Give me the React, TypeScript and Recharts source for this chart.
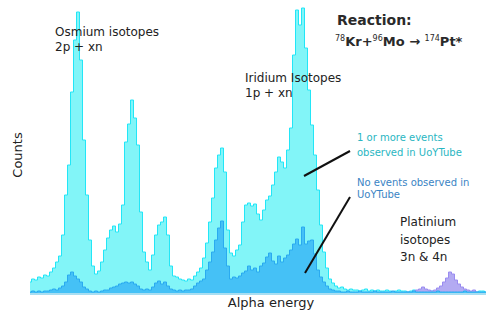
import React from 'react';
import { AreaChart, Area, XAxis, YAxis, ReferenceLine } from 'recharts';

// counts per energy bin (outer envelope: all events)
const allEvents = [
  12, 15, 14, 17, 16, 19, 18, 22, 26, 32, 38, 59, 99, 129, 202, 254, 282, 234, 154, 99,
  54, 28, 20, 23, 32, 44, 56, 64, 68, 62, 70, 89, 152, 170, 194, 176, 149, 82, 42, 32,
  24, 39, 59, 69, 72, 77, 59, 28, 18, 17, 15, 14, 13, 15, 14, 18, 22, 26, 36, 51,
  72, 96, 126, 139, 146, 122, 64, 41, 38, 44, 49, 72, 89, 91, 88, 90, 80, 74, 84, 94,
  98, 109, 122, 137, 132, 126, 144, 166, 239, 284, 269, 286, 246, 204, 169, 139, 104, 69, 42, 26,
  15, 11, 8, 6, 7, 5, 4, 5, 4,
  4, 3, 4, 5, 3, 4, 3, 4, 3, 3, 4, 3, 2, 3, 4, 3, 3, 2, 3, 4, 3, 3, 4, 3, 2, 3, 3, 4,
  3, 3, 4, 3, 2, 3, 3, 2, 3, 3, 2, 3, 2, 3, 3, 2,
];

// events with nothing seen in UoYTube
const noTubeEvents = [
  2, 3, 2, 3, 2, 3, 3, 4, 5, 4, 6, 8, 12, 19, 22, 18, 15, 12, 7, 5,
  3, 2, 3, 2, 3, 4, 4, 6, 7, 8, 10, 11, 12, 11, 12, 10, 8, 5, 4, 5,
  4, 7, 11, 13, 10, 12, 8, 5, 4, 3, 4, 3, 4, 4, 5, 8, 11, 13, 15, 24,
  32, 42, 54, 66, 73, 46, 28, 15, 17, 16, 18, 21, 23, 28, 24, 26, 22, 28, 31, 37,
  41, 33, 30, 38, 32, 36, 39, 44, 50, 55, 49, 67, 50, 53, 54, 40, 24, 17, 12, 8,
  5, 4, 3, 3,
  2, 2, 3, 2, 2, 2, 3, 2, 2, 2, 2, 3, 2, 2, 2, 2, 2, 3, 2, 2, 2, 2, 2, 2, 3,
  2, 2, 2, 2, 2, 2, 2, 3, 2, 2, 2, 2, 2, 2, 2, 2, 3, 2, 2, 2, 2, 2, 2, 2,
];

// platinum channel, only the last bins of the spectrum
const platinumEvents = [
  1, 2, 1, 3, 4, 5, 7, 5, 4, 3, 4, 6, 8, 12, 16, 22, 20, 14, 10, 7,
  5, 4, 3, 4, 2, 1, 1, 0,
];

const platStart = allEvents.length - platinumEvents.length;

const data = allEvents.map((v, i) => ({
  bin: i,
  all: v,
  noTube: noTubeEvents[i] ?? 2,
  plat: i >= platStart ? platinumEvents[i - platStart] : null,
}));

const font = 'DejaVu Sans, Verdana, sans-serif';

export default function App() {
  return (
    <div style={{ position: 'fixed', left: 0, top: 0, width: 486, height: 311, background: '#fff' }}>
      <AreaChart width={486} height={311} data={data} margin={{ top: 0, right: 0, left: 30, bottom: 17 }}>
        <XAxis dataKey="bin" hide />
        <YAxis hide domain={[0, 294]} />
        <Area
          type="step"
          dataKey="all"
          stroke="#22e6f7"
          strokeWidth={1}
          fill="#82f5f8"
          fillOpacity={1}
          isAnimationActive={false}
        />
        <Area
          type="step"
          dataKey="plat"
          stroke="#9a8cf0"
          strokeWidth={1}
          fill="#b3aaf2"
          fillOpacity={1}
          connectNulls={false}
          isAnimationActive={false}
        />
        <Area
          type="step"
          dataKey="noTube"
          stroke="#2aaaf0"
          strokeWidth={1}
          fill="#45c1f6"
          fillOpacity={1}
          isAnimationActive={false}
        />
        <ReferenceLine y={0} stroke="#a8def2" strokeWidth={2} />
      </AreaChart>
      <svg
        width={486}
        height={311}
        style={{ position: 'absolute', left: 0, top: 0, pointerEvents: 'none' }}
        fontFamily={font}
      >
        <text x={55} y={36} fontSize={12} fill="#222">Osmium isotopes</text>
        <text x={55} y={51} fontSize={12} fill="#222">2p + xn</text>
        <text x={245} y={82} fontSize={12} fill="#222">Iridium Isotopes</text>
        <text x={245} y={97} fontSize={12} fill="#222">1p + xn</text>
        <text x={337} y={25} fontSize={14} fontWeight="bold" fill="#2a2a2a">Reaction:</text>
        <text x={335} y={46} fontSize={13} fontWeight="bold" fill="#2a2a2a">
          <tspan fontSize={8} fontWeight="normal" dy={-5}>78</tspan>
          <tspan dy={5}>Kr+</tspan>
          <tspan fontSize={8} fontWeight="normal" dy={-5}>96</tspan>
          <tspan dy={5}>Mo → </tspan>
          <tspan fontSize={8} fontWeight="normal" dy={-5}>174</tspan>
          <tspan dy={5}>Pt*</tspan>
        </text>
        <text x={357} y={141} fontSize={10} fill="#29b6c2">1 or more events</text>
        <text x={357} y={156} fontSize={10} fill="#29b6c2">observed in UoYTube</text>
        <text x={357} y={186} fontSize={10} fill="#3a84c4">No events observed in</text>
        <text x={357} y={198} fontSize={10} fill="#3a84c4">UoYTube</text>
        <text x={400} y={226} fontSize={12} fill="#222">Platinium</text>
        <text x={400} y={244} fontSize={12} fill="#222">isotopes</text>
        <text x={400} y={261} fontSize={12} fill="#222">3n &amp; 4n</text>
        <line x1={304} y1={176} x2={350} y2={151} stroke="#111" strokeWidth={2} />
        <line x1={305} y1={273} x2={350} y2={197} stroke="#111" strokeWidth={2} />
        <text x={22} y={155} fontSize={13} fill="#222" textAnchor="middle" transform="rotate(-90 22 155)">Counts</text>
        <text x={271} y={307} fontSize={13} fill="#222" textAnchor="middle">Alpha energy</text>
      </svg>
    </div>
  );
}
